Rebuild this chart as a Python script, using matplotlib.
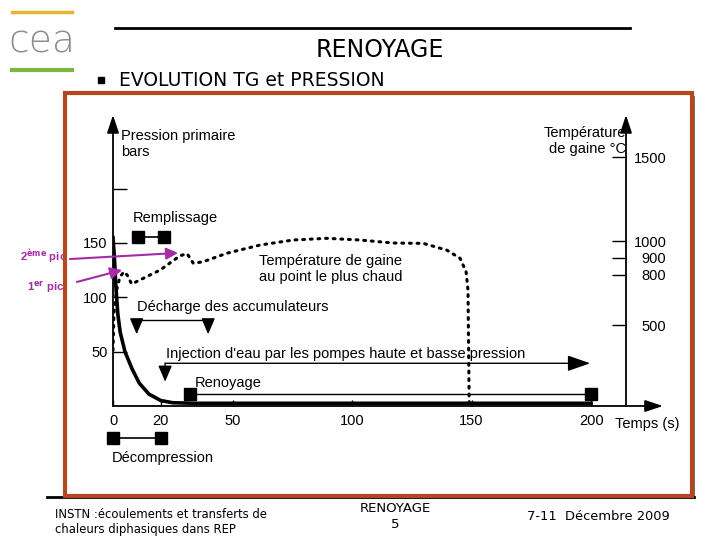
import matplotlib
matplotlib.use('Agg')
import matplotlib.pyplot as plt
from matplotlib.patches import Rectangle

plt.rcParams['font.family'] = ['Liberation Sans', 'DejaVu Sans']

# pression primaire (bars) en fonction du temps (s)
pressure_t = [0, 0.5, 1.2, 2, 3, 5, 8, 11, 15, 20, 25, 35, 200]
pressure_bar = [155, 140, 110, 85, 68, 50, 34, 21, 11, 5, 3, 2.5, 2.5]

# temperature de gaine au point le plus chaud (degC)
temp_t = [0, 0.4, 1.5, 2.9, 4.6, 5.9, 7.8, 19.7, 28, 31, 33.6, 37.8, 47.6,
          61.5, 75.4, 89.4, 103.3, 117.2, 129.8, 139.6, 145.2, 147.7, 148.5, 149]
temp_c = [350, 571, 708, 787, 817, 798, 744, 827, 912, 925, 867, 877, 927,
          976, 1006, 1016, 1006, 988, 986, 946, 897, 817, 708, 40]

time_ticks = [0, 20, 50, 100, 150, 200]
p_ticks = [50, 100, 150, 200]
p_labels = ['50', '100', '150', '']
t_ticks = [500, 800, 900, 1000, 1500]

# phases (debut, fin)
remplissage = [10.5, 21.3]
decompression = [0, 20]
renoyage = [32.2, 200]
decharge = [9.9, 39.8]
injection = [21.8, 199.6]

C_FRAME = '#B5461F'
C_PIC = '#A62BA6'
SLIDE_FONT = ['DejaVu Sans']

fig = plt.figure(figsize=(7.2, 5.4), dpi=100)

# fond de la diapo en pixels
bg = fig.add_axes([0, 0, 1, 1])
bg.set_xlim(0, 720)
bg.set_ylim(540, 0)
bg.axis('off')

bg.plot([12, 72], [12, 12], color='#E6B52E', lw=2.5)
bg.plot([12, 72], [70, 70], color='#7DB443', lw=3)
bg.text(42, 42, 'cea', color='#8C8C8C', fontsize=27, ha='center', va='center',
        family=SLIDE_FONT, fontweight='light')
bg.plot([115, 630], [28, 28], color='k', lw=2)
bg.text(380, 50, 'RENOYAGE', fontsize=17, ha='center', va='center', family=SLIDE_FONT)
bg.plot([101], [80], marker='s', color='k', ms=4)
bg.text(119, 80, 'EVOLUTION TG et PRESSION', fontsize=13.5, ha='left', va='center',
        family=SLIDE_FONT)

bg.text(20, 257, '2$^{\\mathbf{ème}}$ pic', color=C_PIC, fontsize=8.2, fontweight='bold',
        ha='left', va='center')
bg.text(27, 287, '1$^{\\mathbf{er}}$ pic', color=C_PIC, fontsize=8.2, fontweight='bold',
        ha='left', va='center')

bg.add_patch(Rectangle((65, 93), 627, 403, fill=False, edgecolor=C_FRAME, lw=3, zorder=5))
bg.plot([694, 694], [97, 497], color='#555555', lw=1.2)
bg.plot([47, 694], [497, 497], color='k', lw=2)

bg.text(55, 522, 'INSTN :écoulements et transferts de\nchaleurs diphasiques dans REP',
        fontsize=8.4, ha='left', va='center', family=SLIDE_FONT, linespacing=1.2)
bg.text(395, 516, 'RENOYAGE\n5', fontsize=9.5, ha='center', va='center',
        family=SLIDE_FONT, linespacing=1.3)
bg.text(527, 516, '7-11  Décembre 2009', fontsize=9.4, ha='left', va='center',
        family=SLIDE_FONT)

# graphe
ax = fig.add_axes([113 / 720, 134 / 540, 513 / 720, 291 / 540])
ax.set_facecolor('none')
ax.set_xlim(0, 214.6)
ax.set_ylim(0, 267.7)
ax2 = ax.twinx()
ax2.set_ylim(18, 1750)
for a in (ax, ax2):
    for s in a.spines.values():
        s.set_visible(False)

ax.set_xticks(time_ticks)
ax.tick_params(axis='x', direction='in', length=4, width=1, pad=6, labelsize=10.5)
ax.set_yticks(p_ticks, p_labels)
ax.tick_params(axis='y', direction='in', length=10, width=1, pad=4, labelsize=10.5)
ax2.set_yticks(t_ticks)
ax2.tick_params(axis='y', direction='in', length=10, width=1, pad=29, labelsize=10.5)
for lab in ax2.get_yticklabels():
    lab.set_ha('right')

axis_arrow = dict(arrowstyle='-|>,head_length=0.6,head_width=0.2', mutation_scale=18,
                  color='k', lw=1.3, shrinkA=0, shrinkB=0)
ax.annotate('', xy=(1.072, 0), xytext=(0, 0), xycoords='axes fraction', arrowprops=axis_arrow)
ax.annotate('', xy=(0, 1), xytext=(0, 0), xycoords='axes fraction', arrowprops=axis_arrow)
ax.annotate('', xy=(1, 1), xytext=(1, 0), xycoords='axes fraction', arrowprops=axis_arrow)

ax.plot(pressure_t, pressure_bar, color='k', lw=2.6, zorder=3)
ax2.plot(temp_t, temp_c, color='k', lw=2.2, linestyle=(0, (0.6, 1.9)),
         dash_capstyle='round', zorder=3)

sq = dict(color='k', marker='s', ms=8, clip_on=False)
ax.plot(remplissage, [155.5, 155.5], lw=1.2, **sq)
ax.plot(decompression, [-29.5, -29.5], lw=1.2, **sq)
ax.plot(renoyage, [11, 11], lw=1, **sq)

tri = dict(arrowstyle='-|>,head_length=0.7,head_width=0.3', mutation_scale=14,
           color='k', lw=1, shrinkA=0, shrinkB=0)
ax.plot(decharge, [79, 79], color='k', lw=1)
for x in decharge:
    ax.annotate('', xy=(x, 66), xytext=(x, 79), arrowprops=tri)
ax.annotate('', xy=(injection[0], 22.4), xytext=(injection[0], 39.3), arrowprops=tri)
ax.annotate('', xy=(injection[1], 39.3), xytext=(injection[0], 39.3),
            arrowprops=dict(tri, arrowstyle='-|>,head_length=1.0,head_width=0.35'))

# fleches magenta vers les pics
pic = dict(arrowstyle='-|>,head_length=0.5,head_width=0.25', mutation_scale=14,
           color=C_PIC, lw=1.5, shrinkA=0, shrinkB=0)
ax.annotate('', xy=(27.2, 140.8), xytext=(-18.0, 135.2), arrowprops=pic, annotation_clip=False)
ax.annotate('', xy=(3.8, 125.1), xytext=(-15.1, 114.1), arrowprops=pic, annotation_clip=False)

fs = 10.5
ax.text(3.3, 241, 'Pression primaire\nbars', fontsize=fs, va='center', linespacing=1.1)
ax.text(214.6, 243.8, 'Température\nde gaine °C', fontsize=fs, va='center', ha='right',
        linespacing=1.1)
ax.text(8.4, 173, 'Remplissage', fontsize=fs, va='center')
ax.text(61, 126, 'Température de gaine\nau point le plus chaud', fontsize=fs, va='center',
        linespacing=1.1)
ax.text(10, 91, 'Décharge des accumulateurs', fontsize=fs, va='center')
ax.text(22.2, 48, "Injection d'eau par les pompes haute et basse pression", fontsize=fs,
        va='center')
ax.text(34.3, 21, 'Renoyage', fontsize=fs, va='center')
ax.text(-0.4, -48, 'Décompression', fontsize=fs, va='center', clip_on=False)
ax.text(210, -16.6, 'Temps (s)', fontsize=fs, va='center', clip_on=False)

fig.savefig('out.png', dpi=100)
